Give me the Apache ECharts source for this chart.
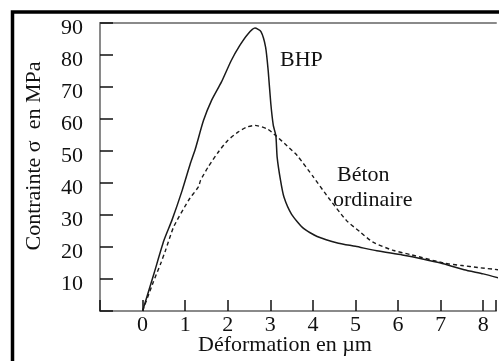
<!DOCTYPE html>
<html><head><meta charset="utf-8">
<script src="https://cdn.jsdelivr.net/npm/echarts@6/dist/echarts.min.js"></script>
<style>html,body{margin:0;padding:0;background:#fff}#c{width:499px;height:361px}</style>
</head><body><div id="c"></div>
<script>
var bhp = [[0,0],[0.27,11.8],[0.5,22],[0.69,28.4],[0.93,37.7],[1.12,46],[1.24,50.7],[1.43,59.5],[1.62,65.8],[1.85,71.5],[2.08,78.2],[2.28,82.9],[2.47,86.5],[2.64,88.4],[2.78,87.3],[2.89,82.4],[2.95,75.1],[3.01,65],[3.07,58],[3.13,54.8],[3.16,48.1],[3.24,40.8],[3.32,35.6],[3.5,30.2],[3.78,25.8],[4.1,23.3],[4.6,21.2],[5.0,20.2],[5.5,18.8],[6.1,17.5],[6.6,16.2],[7.0,15],[7.55,12.9],[8.0,11.6],[8.35,10.4]];
var beton = [[0,0],[0.25,9],[0.43,15],[0.54,19],[0.73,26.3],[1.08,34.6],[1.27,38],[1.32,39],[1.36,40.8],[1.54,45],[1.78,49.7],[2.0,53.3],[2.24,55.9],[2.45,57.5],[2.64,58],[2.93,56.9],[3.13,54.8],[3.4,51.5],[3.63,48.6],[4.01,41.9],[4.32,36.2],[4.78,28.4],[5.1,24.8],[5.4,21.6],[5.87,19],[6.33,17.5],[7.1,14.9],[7.5,14.2],[7.87,13.6],[8.35,12.9]];
var xTitle = 'Déformation en µm';
var yTitle = 'Contrainte σ  en MPa';
var labelBHP = 'BHP';
var labelBeton = ['Béton', 'ordinaire'];

var F = 'Liberation Serif';
var chart = echarts.init(document.getElementById('c'), null, {renderer: 'canvas'});
chart.setOption({
  animation: false,
  backgroundColor: '#fff',
  grid: {left: 100, top: 23, right: -3, bottom: 50},
  xAxis: [{
    type: 'value', min: -1, max: 8.3, interval: 1,
    axisLine: {show: true, onZero: false, lineStyle: {color: '#8a8a8a', width: 2}},
    axisTick: {show: true, inside: true, length: 11, lineStyle: {color: '#111', width: 1.5}},
    axisLabel: {margin: 3, color: '#111', fontFamily: F, fontSize: 22,
      formatter: function(v){ return (v >= 0 && Math.abs(v - Math.round(v)) < 1e-6) ? String(v) : ''; }},
    splitLine: {show: false}
  },{
    type: 'value', position: 'top', min: -1, max: 8.3,
    axisLine: {show: true, onZero: false, lineStyle: {color: '#8a8a8a', width: 2}},
    axisTick: {show: false}, axisLabel: {show: false}, splitLine: {show: false}
  }],
  yAxis: {
    type: 'value', min: 0, max: 90, interval: 10,
    axisLine: {show: true, onZero: false, lineStyle: {color: '#8a8a8a', width: 2}},
    axisTick: {show: true, inside: true, length: 13, lineStyle: {color: '#111', width: 1.5}},
    axisLabel: {margin: 17, color: '#111', fontFamily: F, fontSize: 22,
      formatter: function(v){ return v === 0 ? '' : '{v|' + v + '}'; },
      rich: {v: {fontFamily: F, fontSize: 22, color: '#111', padding: [10,0,0,0]}}},
    splitLine: {show: false}
  },
  series: [{
    type: 'line', data: bhp, showSymbol: false, smooth: 0.2,
    lineStyle: {color: '#1a1a1a', width: 1.5}
  },{
    type: 'line', data: beton, showSymbol: false, smooth: 0.2,
    lineStyle: {color: '#1a1a1a', width: 1.4, type: [4,3]}
  }],
  graphic: [
    {type: 'rect', shape: {x: 12.5, y: 12, width: 600, height: 500}, style: {fill: 'none', stroke: '#000', lineWidth: 3.5}, silent: true},
    {type: 'text', x: 285, y: 345, style: {text: xTitle, font: '22px "Liberation Serif"', fill: '#111', textAlign: 'center', textVerticalAlign: 'middle'}},
    {type: 'text', x: 34, y: 156, rotation: Math.PI/2, style: {text: yTitle, font: '22px "Liberation Serif"', fill: '#111', textAlign: 'center', textVerticalAlign: 'middle'}},
    {type: 'text', x: 280, y: 60, style: {text: labelBHP, font: '22px "Liberation Serif"', fill: '#111', textAlign: 'left', textVerticalAlign: 'middle'}},
    {type: 'text', x: 337, y: 175, style: {text: labelBeton[0], font: '22px "Liberation Serif"', fill: '#111', textAlign: 'left', textVerticalAlign: 'middle'}},
    {type: 'text', x: 333, y: 200, style: {text: labelBeton[1], font: '22px "Liberation Serif"', fill: '#111', textAlign: 'left', textVerticalAlign: 'middle'}}
  ]
});
</script></body></html>
